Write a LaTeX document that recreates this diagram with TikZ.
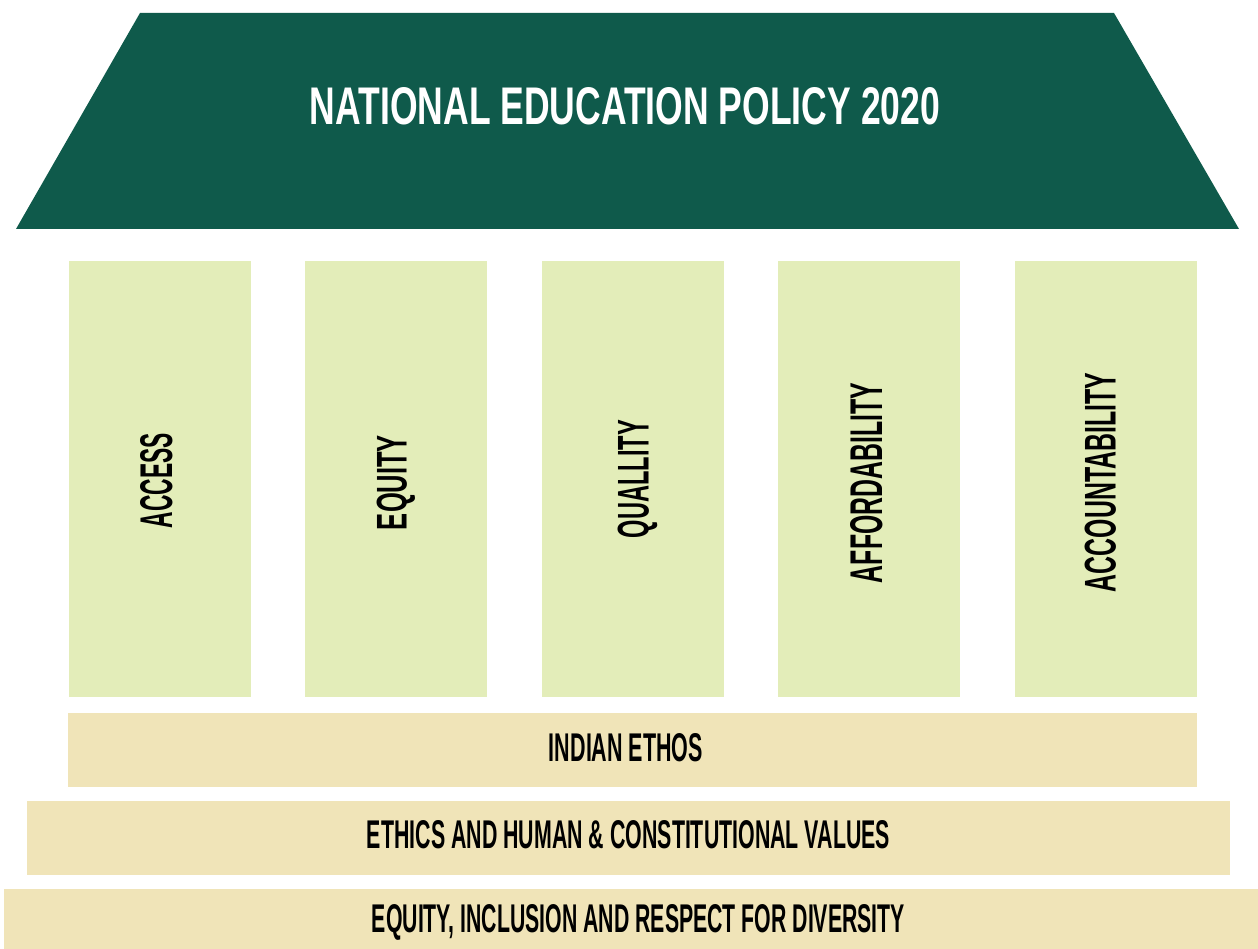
\documentclass[tikz,border=0pt]{standalone}
\usepackage{fontspec}
\usepackage{graphicx}
\setmainfont{Liberation Sans}
\definecolor{roofgreen}{HTML}{0F5A4B}
\definecolor{pillarcol}{HTML}{E3EDB9}
\definecolor{basecol}{HTML}{F0E4B8}
\tikzset{
  pillar/.style={fill=pillarcol, minimum width=182pt, minimum height=436pt, inner sep=0pt, outer sep=0pt},
  basebar/.style={fill=basecol, inner sep=0pt, outer sep=0pt},
  lbl/.style={inner sep=0pt, text=black, font=\bfseries},
}
\newcommand{\fit}[3]{\raisebox{0pt}[\height][0pt]{\resizebox{#1pt}{#2pt}{#3}}}
\begin{document}
\begin{tikzpicture}[x=1pt, y=-1pt]
\useasboundingbox (0,0) rectangle (1258,949);
% roof
\fill[roofgreen] (140,13) -- (1114,13) -- (1239,229) -- (16,229) -- cycle;
\node[inner sep=0pt, text=white, font=\bfseries] (title) at (625,106) {\fit{630}{37}{NATIONAL EDUCATION POLICY 2020}};
% pillars
\node[pillar] (p1) at (160,479) {};
\node[pillar] (p2) at (396,479) {};
\node[pillar] (p3) at (633,479) {};
\node[pillar] (p4) at (869,479) {};
\node[pillar] (p5) at (1106,479) {};
\node[lbl, rotate=90] (t1) at (156,480.5) {\fit{95}{32}{ACCESS}};
\node[lbl, rotate=90] (t2) at (391.5,482.5) {\fit{95}{30}{EQUITY}};
\node[lbl, rotate=90] (t3) at (633,479) {\fit{118}{31}{QUALLITY}};
\node[lbl, rotate=90] (t4) at (866,483) {\fit{200}{32}{AFFORDABILITY}};
\node[lbl, rotate=90] (t5) at (1100,482.5) {\fit{219}{31}{ACCOUNTABILITY}};
% base bars
\node[basebar, minimum width=1129pt, minimum height=74pt] (b1) at (632.5,750) {};
\node[basebar, minimum width=1203pt, minimum height=74pt] (b2) at (628.5,838) {};
\node[basebar, minimum width=1254pt, minimum height=60pt] (b3) at (631,919) {};
\node[lbl] (l1) at (626,747.5) {\fit{154}{28}{INDIAN ETHOS}};
\node[lbl] (l2) at (628.5,834) {\fit{523}{28}{ETHICS AND HUMAN \& CONSTITUTIONAL VALUES}};
\node[lbl] (l3) at (638.5,918) {\fit{533}{28}{EQUITY, INCLUSION AND RESPECT FOR DIVERSITY}};
\end{tikzpicture}
\end{document}
